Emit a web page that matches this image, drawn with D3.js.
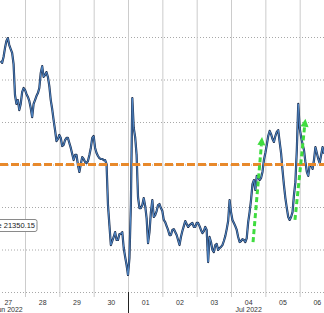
<!DOCTYPE html>
<html>
<head>
<meta charset="utf-8">
<script src="https://cdn.jsdelivr.net/npm/d3@7"></script>
<style>
  body { margin: 0; background: #fff; }
  svg { display: block; font-family: "Liberation Sans", Arial, sans-serif; }
</style>
</head>
<body>
<div id="canvas"></div>
<script>
// hourly closes, first one at 27 Jun 07:00
const firstHour = new Date(2022, 5, 27, 7);
const closes = [
  21787, 21778, 21806, 21848, 21881, 21895, 21862, 21843, 21825, 21773,
  21627, 21585, 21603, 21556, 21585, 21641, 21660, 21651, 21632, 21618,
  21599, 21566, 21523, 21585, 21603, 21622, 21636, 21660, 21731, 21763,
  21712, 21721, 21735, 21712, 21669, 21603, 21561, 21509, 21462, 21410,
  21420, 21439, 21425, 21387, 21392, 21415, 21425, 21425, 21401, 21378,
  21349, 21321, 21345, 21345, 21298, 21265, 21302, 21335, 21326, 21312,
  21307, 21316, 21345, 21378, 21425, 21434, 21378, 21354, 21340, 21330,
  21326, 21326, 21321, 21321, 21302, 21109, 21015, 20921, 20940, 20959,
  20982, 20945, 20945, 20973, 20973, 20982, 20907, 20865, 20827, 20780,
  20860, 21109, 21613, 21472, 21429, 21345, 21147, 21095, 21095, 21109,
  21142, 21105, 21048, 20930, 20982, 21076, 21133, 21053, 21062, 21081,
  21109, 21114, 21095, 21081, 21039, 21029, 21010, 20992, 20968, 20968,
  20992, 20996, 20982, 20968, 20945, 20921, 20959, 20987, 21010, 21034,
  21020, 21006, 21015, 21020, 21025, 21006, 21006, 21025, 21025, 21010,
  20992, 20977, 20987, 21006, 20992, 20841, 20959, 20935, 20898, 20888,
  20921, 20926, 20898, 20907, 20912, 20921, 20940, 20963, 20996, 21034,
  21133, 21076, 21039, 21025, 21010, 20992, 20959, 20935, 20940, 20949,
  20945, 20935, 20954, 21029, 21076, 21133, 21208, 21227, 21180, 21246,
  21241, 21227, 21236, 21265, 21321, 21354, 21392, 21434, 21458, 21443,
  21420, 21406, 21434, 21453, 21462, 21406, 21354, 21274, 21203, 21142,
  21095, 21053, 21039, 21053, 21076, 21156, 21217, 21368, 21585, 21472,
  21429, 21396, 21368, 21312, 21265, 21246, 21298, 21298, 21279, 21321,
  21382, 21354, 21326, 21307, 21345, 21382, 21350.15
];

const priceTicks = [20700, 20900, 21100, 21300, 21500, 21700, 21900];
const dayLabels = ["27", "28", "29", "30", "01", "02", "03", "04", "05", "06"];
const monthLabels = ["Jun 2022", "Jul 2022"];
const monthLabelDays = [new Date(2022, 5, 27, 12), new Date(2022, 6, 4, 12)];
const monthStarts = [new Date(2022, 6, 1)];
const levelPrice = 21300;

// green arrows: [time, price] from -> to
const arrowFrom = [[new Date(2022, 6, 4, 15, 24), 20935], [new Date(2022, 6, 5, 20, 42), 21039]];
const arrowTo = [[new Date(2022, 6, 4, 21, 42), 21429], [new Date(2022, 6, 6, 4, 0), 21515]];

const width = 324;
const height = 313;
const bottom = 292;

const data = closes.map((p, i) => ({ t: d3.timeHour.offset(firstHour, i), p: p }));

const svg = d3.select("#canvas").append("svg")
  .attr("width", width)
  .attr("height", height);

const x = d3.scaleTime()
  .domain([new Date(2022, 5, 27, 6, 31), new Date(2022, 6, 6, 17, 0)])
  .range([0, width]);
const y = d3.scaleLinear().domain([20700, 21900]).range([bottom, 37]);

// horizontal dotted grid
const yGrid = svg.append("g")
  .attr("transform", `translate(${width},0)`)
  .call(d3.axisLeft(y).tickValues(priceTicks).tickSize(width).tickFormat(""));
yGrid.select(".domain").remove();
yGrid.selectAll("line").attr("stroke", "#a8a8a8").attr("stroke-dasharray", "1,2");

// day separators
const dayStarts = d3.timeDay.range(new Date(2022, 5, 28), new Date(2022, 6, 7));
const xGrid = svg.append("g")
  .attr("transform", "translate(0,297)")
  .call(d3.axisTop(x).tickValues(dayStarts).tickSize(297).tickFormat(""));
xGrid.select(".domain").remove();
xGrid.selectAll("line").attr("stroke", "#cccccc");

// month separator tick below the plot
const mTick = svg.append("g")
  .attr("transform", `translate(0,${bottom})`)
  .call(d3.axisBottom(x).tickValues(monthStarts).tickSize(height - bottom).tickFormat(""));
mTick.select(".domain").remove();
mTick.selectAll("line").attr("stroke", "#222");

// day labels
const dayNoons = d3.timeDay.range(new Date(2022, 5, 27), new Date(2022, 6, 7)).map(d => d3.timeHour.offset(d, 12));
const xDays = svg.append("g")
  .attr("transform", `translate(0,${bottom})`)
  .call(d3.axisBottom(x).tickValues(dayNoons).tickSize(0).tickPadding(8.5)
    .tickFormat((d, i) => dayLabels[i]));
xDays.select(".domain").remove();
xDays.selectAll("text").attr("fill", "#333").style("font-size", "7px");

const xMonths = svg.append("g")
  .attr("transform", `translate(0,${bottom})`)
  .call(d3.axisBottom(x).tickValues(monthLabelDays).tickSize(0).tickPadding(15)
    .tickFormat((d, i) => monthLabels[i]));
xMonths.select(".domain").remove();
xMonths.selectAll("text").attr("fill", "#333").style("font-size", "7px");

// price line
const line = d3.line().x(d => x(d.t)).y(d => y(d.p));
svg.append("path").datum(data)
  .attr("fill", "none")
  .attr("stroke", "#1e3050")
  .attr("stroke-width", 2.2)
  .attr("stroke-linejoin", "round")
  .attr("d", line);
svg.append("path").datum(data)
  .attr("fill", "none")
  .attr("stroke", "#5088c8")
  .attr("stroke-width", 1)
  .attr("stroke-linejoin", "round")
  .attr("d", line);

// orange level
svg.append("line")
  .attr("x1", 0).attr("x2", width)
  .attr("y1", y(levelPrice)).attr("y2", y(levelPrice))
  .attr("stroke", "#e8892b")
  .attr("stroke-width", 3)
  .attr("stroke-dasharray", "8,3");

// green arrows
arrowFrom.forEach((f, i) => {
  const x0 = x(f[0]), y0 = y(f[1]);
  const x1 = x(arrowTo[i][0]), y1 = y(arrowTo[i][1]);
  const dx = x1 - x0, dy = y1 - y0;
  const len = Math.sqrt(dx * dx + dy * dy);
  const ux = dx / len, uy = dy / len;
  const head = 8, half = 4;
  const bx = x1 - ux * head, by = y1 - uy * head;
  svg.append("line")
    .attr("x1", x0).attr("y1", y0).attr("x2", bx).attr("y2", by)
    .attr("stroke", "#3fdc3f")
    .attr("stroke-width", 3)
    .attr("stroke-dasharray", "5,3");
  svg.append("path")
    .attr("d", `M${x1},${y1}L${bx - uy * half},${by + ux * half}L${bx + uy * half},${by - ux * half}Z`)
    .attr("fill", "#3fdc3f");
});

// last price tag (cut off at the left edge)
const last = closes[closes.length - 1];
const tag = svg.append("g");
tag.append("rect")
  .attr("x", -50).attr("y", 219.5)
  .attr("width", 87).attr("height", 12)
  .attr("rx", 2)
  .attr("fill", "#fff")
  .attr("stroke", "#8a8a8a");
tag.append("text")
  .attr("x", 35).attr("y", 228.3)
  .attr("text-anchor", "end")
  .attr("fill", "#222")
  .style("font-size", "7.5px")
  .text("Last Price " + d3.format(".2f")(last));
</script>
</body>
</html>
